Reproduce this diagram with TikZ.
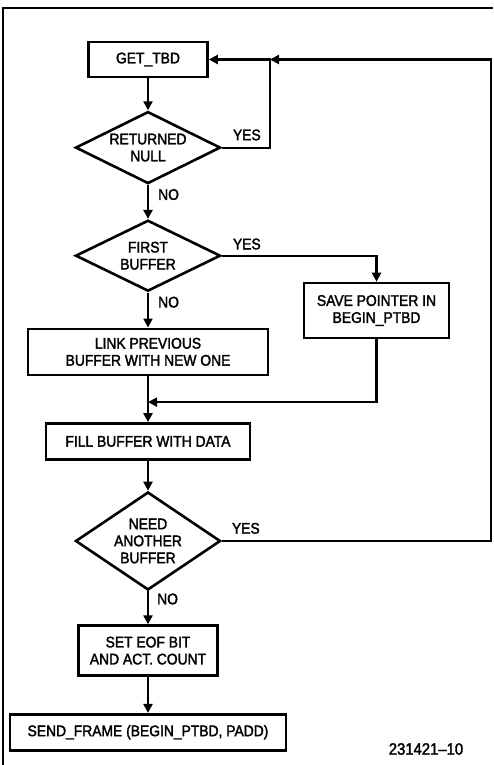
\documentclass[tikz,border=0pt]{standalone}
\usepackage{fontspec}
\setmainfont{Liberation Sans}[FakeStretch=0.9, FakeBold=2]
\usetikzlibrary{arrows.meta, positioning, calc, shapes.geometric}

\begin{document}
\begin{tikzpicture}[
  x=1pt, y=-1pt,
  font=\fontsize{15.4}{17}\selectfont,
  box/.style={draw, align=center, inner sep=0pt, line width=2.6pt},
  dec/.style={draw, diamond, align=center, inner sep=0pt, aspect=2,
              minimum width=145pt, line width=2.6pt},
  flow/.style={-{Triangle[length=9pt, width=9pt]}, line width=2.2pt},
  lbl/.style={inner sep=0pt},
  node distance=32pt,
]
\useasboundingbox (0,0) rectangle (493,765);
\draw[line width=1.4pt] (3,765) -- (3,8) -- (493,8);

\node[box, minimum width=119pt, minimum height=35pt] (get) at (148,59.5) {GET\_TBD};
\node[dec, minimum height=72pt, below=32pt of get] (null) {RETURNED\\NULL};
\node[dec, minimum height=71pt, below=34pt of null] (first) {FIRST\\BUFFER};
\node[box, minimum width=145pt, minimum height=55pt] (save) at (376.5,310.5) {SAVE POINTER IN\\BEGIN\_PTBD};
\node[box, minimum width=240pt, minimum height=46pt, below=35pt of first] (link) {LINK PREVIOUS\\BUFFER WITH NEW ONE};
\node[box, minimum width=204pt, minimum height=36pt, below=46pt of link] (fill) {FILL BUFFER WITH DATA};
\node[dec, aspect=1.5, minimum height=98pt, below=30pt of fill] (need) {NEED\\ANOTHER\\BUFFER};
\node[box, minimum width=139pt, minimum height=50pt, below=33pt of need] (set) {SET EOF BIT\\AND ACT. COUNT};
\node[box, minimum width=276pt, minimum height=36pt, below=36pt of set] (send) {SEND\_FRAME (BEGIN\_PTBD, PADD)};

\coordinate (ret) at (270,59.5);
\coordinate (far) at (491,59.5);
\coordinate (mrg) at ($(link.south)!0.565!(fill.north)$);

\foreach \a/\b in {get/null, null/first, first/link, link/fill, fill/need, need/set, set/send}
  \draw[flow] (\a) -- (\b);

\draw[flow] (null.east) -| (ret) -- (get.east);
\draw[flow] (first.east) -| (save.north);
\draw[flow] (save.south) |- (mrg);
\draw[flow] (need.east) -| (far) -- (ret);

\node[lbl, above right=7pt and 11pt of null.east] (y1) {YES};
\node[lbl, below right=4pt and 10pt of null.south] (n1) {NO};
\node[lbl, above right=6pt and 11pt of first.east] (y2) {YES};
\node[lbl, below right=4pt and 10pt of first.south] (n2) {NO};
\node[lbl, above right=7pt and 10pt of need.east] (y3) {YES};
\node[lbl, below right=2pt and 9pt of need.south] (n3) {NO};

\node[font=\fontsize{16.5}{18}\selectfont] (fig) at (426,749) {231421--10};
\end{tikzpicture}
\end{document}
